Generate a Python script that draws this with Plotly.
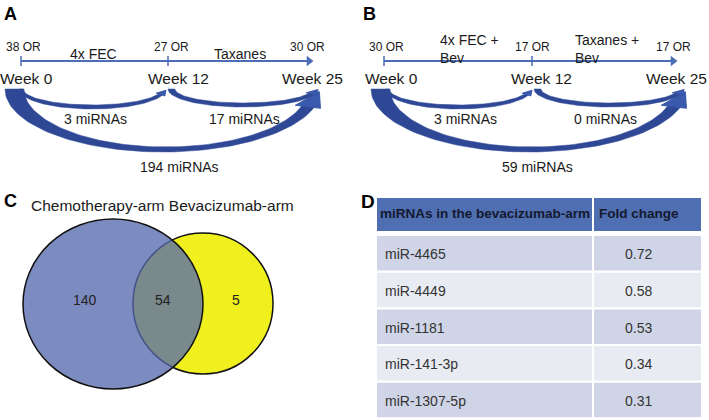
import numpy as np
import plotly.graph_objects as go

# ---------------- data ----------------
timepoints = ["Week 0", "Week 12", "Week 25"]
or_arm_a = [38, 27, 30]
or_arm_b = [30, 17, 17]
treat_a = ["4x FEC", "Taxanes"]
treat_b = ["4x FEC +<br>Bev", "Taxanes +<br>Bev"]
mirna_a = [3, 17, 194]          # wk0->12, wk12->25, wk0->25
mirna_b = [3, 0, 59]
venn_sets = ["Chemotherapy-arm", "Bevacizumab-arm"]
venn_counts = [140, 54, 5]      # chemo only, shared, bev only
table_header = ["miRNAs in the bevacizumab-arm", "Fold change"]
table_mirnas = ["miR-4465", "miR-4449", "miR-1181", "miR-141-3p", "miR-1307-5p"]
table_fold = [0.72, 0.58, 0.53, 0.34, 0.31]

# ---------------- styling / layout constants ----------------
FONT = "Liberation Sans, Arial, sans-serif"
TXT = "#1a1a1a"
LINE_BLUE = "#4A6DB5"
ARROW_BLUE = "#2E4896"
HEAD_BLUE = "#3A5AAE"

W, H = 709, 420
fig = go.Figure()
annotations = []
shapes = []


def text(x, y, s, size=14, bold=False, xanchor="center", color=TXT, align="center"):
    annotations.append(dict(
        x=x, y=y, xref="x", yref="y", text=f"<b>{s}</b>" if bold else s,
        showarrow=False, xanchor=xanchor, yanchor="middle", align=align,
        font=dict(family=FONT, size=size, color=color)))


def ellipse(cx, cy, rx, ry, t0, t1, n=80):
    t = np.linspace(t0, t1, n)
    return cx - rx * np.cos(t), cy + ry * np.sin(t)


def curved_arrow(outer, inner, cy, te, head_len, head_ext, dx=0.0, color=ARROW_BLUE):
    (cxo, rxo, ryo), (cxi, rxi, ryi) = outer, inner
    xo, yo = ellipse(cxo + dx, cy, rxo, ryo, 0, te)
    xi, yi = ellipse(cxi + dx, cy, rxi, ryi, 0, te)
    Po = np.array([xo[-1], yo[-1]])
    Pi = np.array([xi[-1], yi[-1]])
    M = (Po + Pi) / 2
    tan = np.array([(rxo + rxi) / 2 * np.sin(te), (ryo + ryi) / 2 * np.cos(te)])
    d = tan / np.linalg.norm(tan)
    w = (Po - Pi) / np.linalg.norm(Po - Pi)
    Po_e = Po + w * head_ext
    Pi_e = Pi - w * head_ext
    tip = M + d * head_len
    xs = list(xo) + [Po_e[0], tip[0], Pi_e[0]] + list(xi[::-1]) + [xo[0]]
    ys = list(yo) + [Po_e[1], tip[1], Pi_e[1]] + list(yi[::-1]) + [yo[0]]
    fig.add_trace(go.Scatter(x=xs, y=ys, mode="lines", fill="toself",
                             fillcolor=ARROW_BLUE, line=dict(color=ARROW_BLUE, width=0.5),
                             hoverinfo="skip", showlegend=False))
    # lighter arrow head overlay
    fig.add_trace(go.Scatter(x=[Po[0], Po_e[0], tip[0], Pi_e[0], Pi[0], Po[0]],
                             y=[Po[1], Po_e[1], tip[1], Pi_e[1], Pi[1], Po[1]],
                             mode="lines", fill="toself", fillcolor=color,
                             line=dict(color=color, width=0.5),
                             hoverinfo="skip", showlegend=False))


# ---------------- panels A and B ----------------
panels = [
    dict(label="A", lx=10, ticks=[21, 168], line_end=313, ors=or_arm_a,
         or_x=[23, 171, 307], treat=treat_a, treat_x=[93, 240], treat_anchor="center",
         treat_y=54, week_x=[26, 178, 312], mir=mirna_a,
         mir_pos=[(95, 119), (244, 119), (179, 167)], dx=0),
    dict(label="B", lx=369, ticks=[384, 532], line_end=677, ors=or_arm_b,
         or_x=[386, 532, 673], treat=treat_b, treat_x=[438, 573], treat_anchor="left",
         treat_y=49, week_x=[391, 541, 676], mir=mirna_b,
         mir_pos=[(465, 119), (605, 119), (537, 167)], dx=366),
]

for p in panels:
    text(p["lx"], 14, p["label"], size=18, bold=True, color="#000")
    y_line = 61
    # timeline
    fig.add_trace(go.Scatter(x=[p["ticks"][0], p["line_end"] - 5], y=[y_line, y_line],
                             mode="lines", line=dict(color=LINE_BLUE, width=2),
                             hoverinfo="skip", showlegend=False))
    fig.add_trace(go.Scatter(x=[p["line_end"] - 4], y=[y_line], mode="markers",
                             marker=dict(symbol="triangle-right", size=9, color=LINE_BLUE),
                             hoverinfo="skip", showlegend=False))
    for tx in p["ticks"]:
        fig.add_trace(go.Scatter(x=[tx, tx], y=[y_line - 5, y_line + 5], mode="lines",
                                 line=dict(color=LINE_BLUE, width=1.5),
                                 hoverinfo="skip", showlegend=False))
    for v, x in zip(p["ors"], p["or_x"]):
        text(x, 47, f"{v} OR", size=12)
    for s, x in zip(p["treat"], p["treat_x"]):
        text(x, p["treat_y"], s, size=14, xanchor=p["treat_anchor"], align="left")
    for s, x in zip(timepoints, p["week_x"]):
        text(x, 78, s, size=15.5)
    dx = p["dx"]
    # big arrow week0 -> week25
    curved_arrow((163, 158, 63), (166, 142, 58), 89, 0.905 * np.pi, 19, 6.5, dx, HEAD_BLUE)
    # small arrows
    curved_arrow((92.5, 73.5, 20), (92.5, 69.5, 16), 89, 0.9 * np.pi, 7, 2.5, dx, HEAD_BLUE)
    curved_arrow((243, 75, 18), (243.5, 68.5, 14), 89, 0.9 * np.pi, 8, 2.5, dx, HEAD_BLUE)
    for v, (x, y) in zip(p["mir"], p["mir_pos"]):
        text(x, y, f"{v} miRNAs", size=14)

# ---------------- panel C : Venn ----------------
text(10, 201, "C", size=18, bold=True, color="#000")
text(29, 205, " ".join(venn_sets), size=15.5, xanchor="left")
shapes.append(dict(type="circle", xref="x", yref="y", x0=133, x1=273, y0=233, y1=374,
                   fillcolor="#F0F01E", line=dict(color="#111", width=1.5), layer="above"))
shapes.append(dict(type="circle", xref="x", yref="y", x0=23, x1=203, y0=219, y1=389,
                   fillcolor="rgba(86,106,173,0.77)", line=dict(color="#111", width=1.5),
                   layer="above"))
for v, x in zip(venn_counts, [85, 163, 236]):
    text(x, 300, str(v), size=14, color="#222")

# ---------------- panel D : table ----------------
col_x = [(377, 592), (594, 701)]
hdr_y = (198, 231)
HDR_FILL = "#4F6FB2"
row_fill = ["#CFD5E6", "#E8EBF2"]
for (x0, x1), h in zip(col_x, table_header):
    shapes.append(dict(type="rect", xref="x", yref="y", x0=x0, x1=x1, y0=hdr_y[0], y1=hdr_y[1],
                       fillcolor=HDR_FILL, line=dict(width=0), layer="below"))
text(378, 213, table_header[0], size=13.5, bold=True, xanchor="left", color="#141a2e")
text(597, 213, table_header[1], size=13.5, bold=True, xanchor="left", color="#141a2e")
pitch, rh, top0 = 36.7, 34.5, 236
for i, (name, fc) in enumerate(zip(table_mirnas, table_fold)):
    y0 = top0 + i * pitch
    for (x0, x1) in col_x:
        shapes.append(dict(type="rect", xref="x", yref="y", x0=x0, x1=x1, y0=y0, y1=y0 + rh,
                           fillcolor=row_fill[i % 2], line=dict(width=0), layer="below"))
    yc = y0 + rh / 2 + 1
    text(383, yc, name, size=14, xanchor="left", color="#333")
    text(623, yc, f"{fc:.2f}", size=14, xanchor="left", color="#333")
text(368, 201, "D", size=19, bold=True, color="#000")

fig.update_layout(
    width=W, height=H, margin=dict(l=0, r=0, t=0, b=0),
    paper_bgcolor="white", plot_bgcolor="white",
    xaxis=dict(range=[0, W], visible=False, fixedrange=True),
    yaxis=dict(range=[H, 0], visible=False, fixedrange=True),
    annotations=annotations, shapes=shapes, showlegend=False,
)
fig.write_html("out.html", config={"displayModeBar": False},
               post_script="document.body.style.margin='0px';")
